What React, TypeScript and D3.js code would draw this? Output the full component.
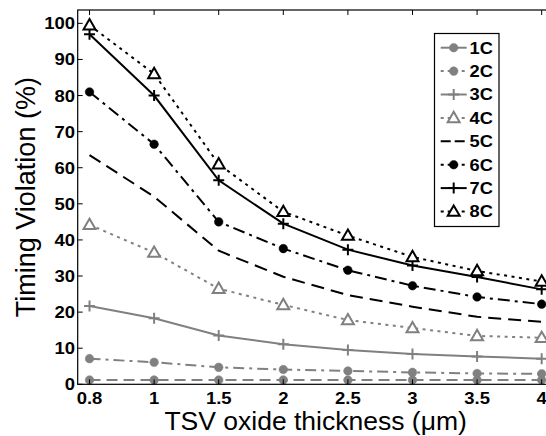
import React from "react";
import * as d3 from "d3";

const categories = ["0.8", "1", "1.5", "2", "2.5", "3", "3.5", "4"];
const yTicks = [0, 10, 20, 30, 40, 50, 60, 70, 80, 90, 100];
const seriesNames = ["1C", "2C", "3C", "4C", "5C", "6C", "7C", "8C"];

const s1C = [1.2, 1.2, 1.2, 1.2, 1.2, 1.2, 1.2, 1.2];
const s2C = [7.1, 6.1, 4.7, 4.1, 3.7, 3.3, 3.0, 2.9];
const s3C = [21.7, 18.3, 13.5, 11.1, 9.5, 8.4, 7.7, 7.1];
const s4C = [44.2, 36.5, 26.5, 22.0, 17.8, 15.6, 13.4, 12.9];
const s5C = [63.5, 52.0, 37.0, 29.8, 24.7, 21.5, 18.7, 17.3];
const s6C = [81.0, 66.5, 45.0, 37.6, 31.6, 27.3, 24.2, 22.2];
const s7C = [97.0, 80.0, 56.5, 44.5, 37.3, 32.9, 29.7, 26.3];
const s8C = [99.5, 86.0, 61.0, 47.8, 41.2, 35.3, 31.4, 28.5];

const GRAY = "#808080";
const FONT = "'Liberation Sans', Arial, Helvetica, sans-serif";

type Marker = "circle" | "plus" | "triangle" | "none";
const seriesData = [s1C, s2C, s3C, s4C, s5C, s6C, s7C, s8C];
const seriesColor = [GRAY, GRAY, GRAY, GRAY, "#000", "#000", "#000", "#000"];
const seriesMarker: Marker[] = ["circle", "circle", "plus", "triangle", "none", "circle", "plus", "triangle"];
const plotDash = ["11,6", "11,5,3,5", "", "3,4.5", "13,7", "12,5,3,5", "", "3,4.5"];
const legendDash = ["", "3,4", "", "3,4", "10,4", "3,4", "", "3,4"];

function MarkerShape({ type, x, y, color }: { type: Marker; x: number; y: number; color: string }) {
  if (type === "circle") return <circle cx={x} cy={y} r={4.3} fill={color} stroke={color} strokeWidth={0.5} />;
  if (type === "plus")
    return (
      <path d={`M${x - 5.5},${y}H${x + 5.5}M${x},${y - 5.5}V${y + 5.5}`} stroke={color} strokeWidth={2} fill="none" />
    );
  if (type === "triangle") {
    const t = d3.symbol(d3.symbolTriangle, 62)();
    return <path d={t || ""} transform={`translate(${x},${y + 0.8})`} fill="#fff" stroke={color} strokeWidth={2} />;
  }
  return null;
}

export default function App() {
  const W = 546, H = 436;
  const left = 77.7, top = 10, bottom = 384.3;
  const x = d3.scaleLinear().domain([-0.183, 7.183]).range([left, 553.5]);
  const y = d3.scaleLinear().domain([0, 103.7]).range([bottom, top]);
  const right = x(7.183);
  const line = d3.line<number>().x((_, i) => x(i)).y((d) => y(d));

  const legX = 434.5, legY = 33.5, legW = 64.5, legH = 193;
  const legStep = 23.4;

  return (
    <svg width={W} height={H} style={{ position: "absolute", left: 0, top: 0, background: "#fff" }} fontFamily={FONT}>
      <rect x={0} y={0} width={W} height={H} fill="#fff" />
      {seriesData.map((data, si) => (
        <g key={si}>
          <path
            d={line(data) || ""}
            fill="none"
            stroke={seriesColor[si]}
            strokeWidth={2}
            strokeDasharray={plotDash[si] || undefined}
          />
          {data.map((v, i) => (
            <MarkerShape key={i} type={seriesMarker[si]} x={x(i)} y={y(v)} color={seriesColor[si]} />
          ))}
        </g>
      ))}
      <rect x={left} y={top} width={right - left} height={bottom - top} fill="none" stroke="#000" strokeWidth={1.2} />
      {categories.map((c, i) => (
        <g key={c}>
          <line x1={x(i)} x2={x(i)} y1={bottom} y2={bottom - 5} stroke="#000" strokeWidth={1} />
          <line x1={x(i)} x2={x(i)} y1={top} y2={top + 5} stroke="#000" strokeWidth={1} />
          <text
            transform={`translate(${x(i)},403.5) scale(1.12,1)`}
            textAnchor="middle"
            fontSize={16.5}
            fontWeight="bold"
          >
            {c}
          </text>
        </g>
      ))}
      {yTicks.map((t) => (
        <g key={t}>
          <line x1={left} x2={left + 5} y1={y(t)} y2={y(t)} stroke="#000" strokeWidth={1} />
          <text
            transform={`translate(75,${y(t) + 6}) scale(1.12,1)`}
            textAnchor="end"
            fontSize={16.5}
            fontWeight="bold"
          >
            {t}
          </text>
        </g>
      ))}
      <text x={(left + right) / 2} y={429.5} textAnchor="middle" fontSize={26.5}>
        TSV oxide thickness (μm)
      </text>
      <text transform={`translate(35,${(top + bottom) / 2}) rotate(-90)`} textAnchor="middle" fontSize={27}>
        Timing Violation (%)
      </text>
      <rect x={legX} y={legY} width={legW} height={legH} fill="#fff" stroke="#000" strokeWidth={1.2} />
      {seriesNames.map((n, si) => {
        const ly = 47.7 + si * legStep;
        return (
          <g key={n}>
            <line
              x1={440.7}
              x2={466.7}
              y1={ly}
              y2={ly}
              stroke={seriesColor[si]}
              strokeWidth={2}
              strokeDasharray={legendDash[si] || undefined}
            />
            <MarkerShape type={seriesMarker[si]} x={453.7} y={ly} color={seriesColor[si]} />
            <text
              transform={`translate(469.5,${ly + 5.8}) scale(1.12,1)`}
              fontSize={16.3}
              fontWeight="bold"
            >
              {n}
            </text>
          </g>
        );
      })}
    </svg>
  );
}
